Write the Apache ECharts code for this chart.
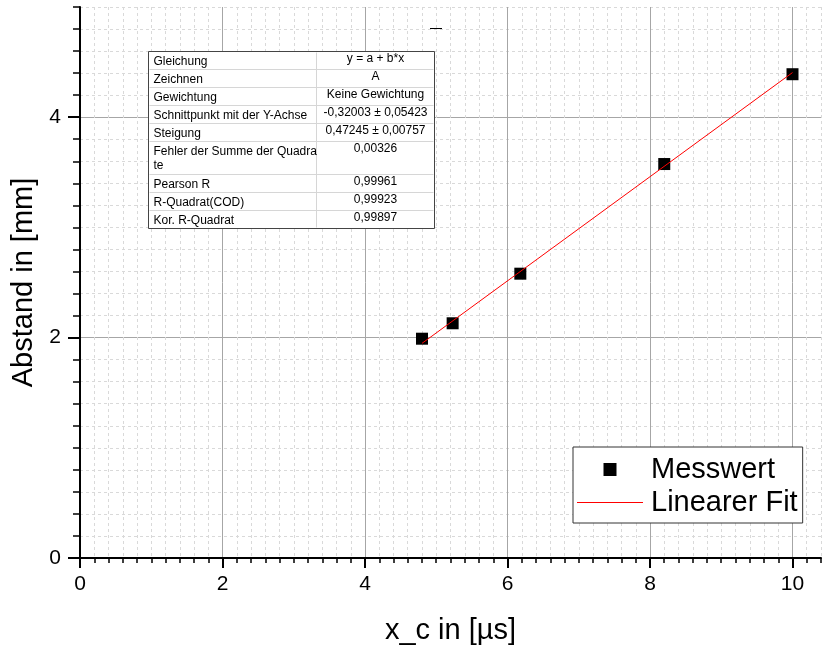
<!DOCTYPE html>
<html>
<head>
<meta charset="utf-8">
<script src="https://cdn.jsdelivr.net/npm/echarts@6/dist/echarts.min.js"></script>
<style>
  html, body { margin: 0; padding: 0; background: #fff; }
  #chart { width: 822px; height: 650px; }
</style>
</head>
<body>
<div id="chart"></div>
<script>
// measured points
const xValues = [4.80, 5.23, 6.18, 8.20, 10.00];
const yValues = [1.99, 2.13, 2.58, 3.575, 4.39];
// fit line end points
const fitX = [4.8, 10.0];
const fitY = [1.948, 4.405];
// labelled ticks
const xTicks = [0, 2, 4, 6, 8, 10];
const yTicks = [0, 2, 4];
// fit result table
const tableLabels = [
  'Gleichung', 'Zeichnen', 'Gewichtung', 'Schnittpunkt mit der Y-Achse', 'Steigung',
  'Fehler der Summe der Quadra\nte', 'Pearson R', 'R-Quadrat(COD)', 'Kor. R-Quadrat'
];
const tableValues = [
  'y = a + b*x', 'A', 'Keine Gewichtung', '-0,32003 ± 0,05423', '0,47245 ± 0,00757',
  '0,00326', '0,99961', '0,99923', '0,99897'
];

const FONT = "'Liberation Sans', Arial, sans-serif";

// table drawn as graphic
const rowH = [18, 18, 18, 18, 18, 33, 18, 18, 18];
const tableW = 286, col1 = 168;
const X0 = 148.5, Y0 = 51.5;
let tableH = 0;
rowH.forEach(h => tableH += h);
let cells = [];
cells.push({ type: 'rect', z: 100, shape: { x: X0, y: Y0, width: tableW, height: tableH },
  style: { fill: '#ffffff', stroke: '#444', lineWidth: 1 } });
let yy = Y0;
tableLabels.forEach((lab, i) => {
  if (i > 0) {
    cells.push({ type: 'line', z: 101, shape: { x1: X0 + 1, y1: yy, x2: X0 + tableW - 1, y2: yy },
      style: { stroke: '#d6d6d6', lineWidth: 1 } });
  }
  cells.push({ type: 'text', z: 102, x: X0 + 5, y: yy + 3,
    style: { text: lab, fontSize: 12, fontFamily: FONT, fill: '#000', verticalAlign: 'top', lineHeight: 14 } });
  cells.push({ type: 'text', z: 102, x: X0 + (col1 + tableW) / 2, y: yy + 1.5,
    style: { text: tableValues[i], fontSize: 12, fontFamily: FONT, fill: '#000', align: 'center', verticalAlign: 'top' } });
  yy += rowH[i];
});
cells.push({ type: 'line', z: 101, shape: { x1: X0 + col1, y1: Y0 + 1, x2: X0 + col1, y2: Y0 + tableH - 1 },
  style: { stroke: '#d6d6d6', lineWidth: 1 } });
cells.push({ type: 'line', z: 101, shape: { x1: 430, y1: 28.5, x2: 442, y2: 28.5 },
  style: { stroke: '#000', lineWidth: 1 } });

const chart = echarts.init(document.getElementById('chart'));
chart.setOption({
  animation: false,
  backgroundColor: '#fff',
  grid: { left: 80, right: 1, top: 7, bottom: 92, containLabel: false },
  legend: {
    left: 573, top: 447, orient: 'vertical',
    itemWidth: 66, itemHeight: 13, itemGap: 4,
    padding: [8, 5, 6, 4],
    borderColor: '#333', borderWidth: 1, backgroundColor: '#fff',
    textStyle: { fontSize: 29, color: '#000', fontFamily: FONT, padding: [0, 0, 0, 3] },
    data: [
      { name: 'Messwert', icon: 'path://M0 0H10V10H0Z' },
      { name: 'Linearer Fit', icon: 'path://M0 0H66V1H0Z' }
    ]
  },
  xAxis: [
    {
      // minor grid + small ticks
      type: 'value', min: 0, max: 10.4, interval: 0.2, position: 'bottom',
      axisLine: { show: false },
      axisLabel: { show: false },
      axisTick: { show: true, length: 5, lineStyle: { color: '#000', width: 1.5 } },
      splitLine: { show: true, lineStyle: { color: '#d9d9d9', width: 1, type: [3, 3] } }
    },
    {
      type: 'value', min: 0, max: 10.4, interval: 2, position: 'bottom',
      name: 'x_c in [µs]', nameLocation: 'middle', nameGap: 58,
      nameTextStyle: { fontSize: 29, color: '#000', fontFamily: FONT },
      axisLine: { show: true, lineStyle: { color: '#000', width: 2 } },
      axisTick: { show: true, customValues: xTicks, length: 10, lineStyle: { color: '#000', width: 2 } },
      axisLabel: { customValues: xTicks, fontSize: 21, color: '#000', fontFamily: FONT, margin: 16 },
      splitLine: { show: true, lineStyle: { color: '#a6a6a6', width: 1 } }
    }
  ],
  yAxis: [
    {
      type: 'value', min: 0, max: 5, interval: 0.2, position: 'left',
      axisLine: { show: false },
      axisLabel: { show: false },
      axisTick: { show: true, length: 7, lineStyle: { color: '#000', width: 1.5 } },
      splitLine: { show: true, lineStyle: { color: '#d9d9d9', width: 1, type: [3, 3] } }
    },
    {
      type: 'value', min: 0, max: 5, interval: 2, position: 'left',
      name: 'Abstand in [mm]', nameLocation: 'middle', nameGap: 32,
      nameTextStyle: { fontSize: 29, color: '#000', fontFamily: FONT },
      axisLine: { show: true, lineStyle: { color: '#000', width: 2 } },
      axisTick: { show: true, customValues: yTicks, length: 12, lineStyle: { color: '#000', width: 2 } },
      axisLabel: { customValues: yTicks, fontSize: 21, color: '#000', fontFamily: FONT, margin: 19 },
      splitLine: { show: true, lineStyle: { color: '#a6a6a6', width: 1 } }
    }
  ],
  graphic: { elements: cells },
  series: [
    {
      name: 'Messwert', type: 'scatter', xAxisIndex: 1, yAxisIndex: 1,
      symbol: 'rect', symbolSize: 12,
      itemStyle: { color: '#000', opacity: 1 },
      data: xValues.map((x, i) => [x, yValues[i]])
    },
    {
      name: 'Linearer Fit', type: 'line', xAxisIndex: 1, yAxisIndex: 1,
      symbol: 'none', showSymbol: false,
      itemStyle: { color: '#ff0000' },
      lineStyle: { color: '#ff0000', width: 1 },
      data: fitX.map((x, i) => [x, fitY[i]])
    }
  ]
});
</script>
</body>
</html>
